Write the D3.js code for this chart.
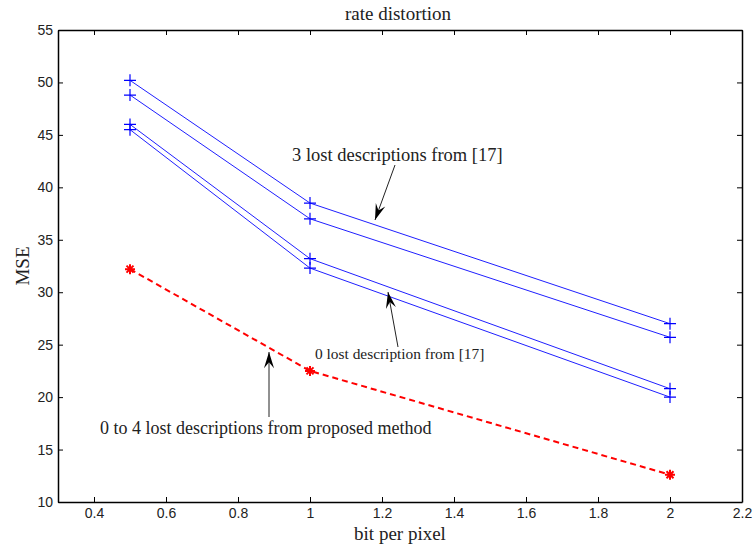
<!DOCTYPE html>
<html>
<head>
<meta charset="utf-8">
<script src="https://cdn.jsdelivr.net/npm/d3@7"></script>
<style>
  body { margin: 0; background: #fff; }
  .tick text { font-family: "Liberation Sans", Arial, sans-serif; font-size: 14px; fill: #222; }
  .serif { font-family: "Liberation Serif", "Times New Roman", serif; fill: #222; }
</style>
</head>
<body>
<script>
// data
var bpp = [0.5, 1, 2];
var lost3a = [50.2, 38.5, 27.0];
var lost3b = [48.8, 37.0, 25.7];
var lost0a = [46.0, 33.2, 20.8];
var lost0b = [45.5, 32.3, 20.0];
var proposed = [32.2, 22.5, 12.6];
var xTicks = [0.4, 0.6, 0.8, 1, 1.2, 1.4, 1.6, 1.8, 2, 2.2];
var yTicks = [10, 15, 20, 25, 30, 35, 40, 45, 50, 55];

var margin = { top: 30, right: 12, bottom: 44, left: 58 },
    width = 754 - margin.left - margin.right,
    height = 546 - margin.top - margin.bottom;

var svg = d3.select("body")
    .append("svg")
    .attr("width", 754)
    .attr("height", 546);

var x = d3.scaleLinear().domain([0.3, 2.2]).range([0, width]);
var y = d3.scaleLinear().domain([10, 55]).range([height, 0]);

var main = svg.append("g")
    .attr("transform", "translate(" + margin.left + "," + margin.top + ")");

// axes, ticks pointing inward on all four sides
main.append("g")
    .attr("transform", "translate(0," + height + ")")
    .call(d3.axisBottom(x).tickValues(xTicks).tickFormat(d3.format("")).tickSizeInner(-5).tickSizeOuter(0).tickPadding(6));
main.append("g")
    .call(d3.axisLeft(y).tickValues(yTicks).tickSizeInner(-5).tickSizeOuter(0).tickPadding(5));
main.append("g")
    .call(d3.axisTop(x).tickValues(xTicks).tickFormat("").tickSizeInner(-5).tickSizeOuter(0));
main.append("g")
    .attr("transform", "translate(" + width + ",0)")
    .call(d3.axisRight(y).tickValues(yTicks).tickFormat("").tickSizeInner(-5).tickSizeOuter(0));
main.selectAll(".domain").attr("stroke", "#000").attr("stroke-width", 1.5);
main.selectAll(".tick line").attr("stroke", "#000");

var line = d3.line()
    .x(function (d) { return x(d[0]); })
    .y(function (d) { return y(d[1]); });

var blueSeries = [lost3a, lost3b, lost0a, lost0b];
blueSeries.forEach(function (s) {
    var pts = bpp.map(function (b, i) { return [b, s[i]]; });
    main.append("path")
        .attr("d", line(pts))
        .attr("fill", "none")
        .attr("stroke", "#1f1fff")
        .attr("stroke-width", 1);
    pts.forEach(function (p) {
        var cx = x(p[0]), cy = y(p[1]);
        main.append("path")
            .attr("d", "M" + (cx - 6) + "," + cy + "H" + (cx + 6) + "M" + cx + "," + (cy - 6) + "V" + (cy + 6))
            .attr("stroke", "#0000ff")
            .attr("stroke-width", 1.2);
    });
});

var redPts = bpp.map(function (b, i) { return [b, proposed[i]]; });
main.append("path")
    .attr("d", line(redPts))
    .attr("fill", "none")
    .attr("stroke", "#ff0000")
    .attr("stroke-width", 2)
    .attr("stroke-dasharray", "6,4");
redPts.forEach(function (p) {
    var cx = x(p[0]), cy = y(p[1]);
    main.append("path")
        .attr("d", "M" + (cx - 5) + "," + cy + "H" + (cx + 5) + "M" + cx + "," + (cy - 5) + "V" + (cy + 5) +
            "M" + (cx - 3.5) + "," + (cy - 3.5) + "L" + (cx + 3.5) + "," + (cy + 3.5) +
            "M" + (cx - 3.5) + "," + (cy + 3.5) + "L" + (cx + 3.5) + "," + (cy - 3.5))
        .attr("stroke", "#ff0000")
        .attr("stroke-width", 2);
});

// title and axis labels
svg.append("text").attr("class", "serif")
    .attr("x", 398).attr("y", 20)
    .attr("text-anchor", "middle").attr("font-size", 19)
    .text("rate distortion");
svg.append("text").attr("class", "serif")
    .attr("x", 400).attr("y", 540)
    .attr("text-anchor", "middle").attr("font-size", 19)
    .text("bit per pixel");
svg.append("text").attr("class", "serif")
    .attr("transform", "translate(29,266) rotate(-90)")
    .attr("text-anchor", "middle").attr("font-size", 19)
    .text("MSE");

// annotations with arrows
function arrow(x1, y1, x2, y2) {
    svg.append("line")
        .attr("x1", x1).attr("y1", y1).attr("x2", x2).attr("y2", y2)
        .attr("stroke", "#222").attr("stroke-width", 1);
    var a = Math.atan2(y2 - y1, x2 - x1), L = 17, w = 0.3;
    var p1 = [x2 - L * Math.cos(a - w), y2 - L * Math.sin(a - w)];
    var p2 = [x2 - L * Math.cos(a + w), y2 - L * Math.sin(a + w)];
    var pm = [x2 - 0.6 * L * Math.cos(a), y2 - 0.6 * L * Math.sin(a)];
    svg.append("path")
        .attr("d", "M" + x2 + "," + y2 + "L" + p1 + "L" + pm + "L" + p2 + "Z")
        .attr("fill", "#000");
}

svg.append("text").attr("class", "serif")
    .attr("x", 292).attr("y", 161).attr("font-size", 18.5)
    .text("3 lost descriptions from [17]");
arrow(395, 165, 375, 220);

svg.append("text").attr("class", "serif")
    .attr("x", 315).attr("y", 359).attr("font-size", 15.4)
    .text("0 lost description from [17]");
arrow(398, 347, 388, 292);

svg.append("text").attr("class", "serif")
    .attr("x", 100).attr("y", 434).attr("font-size", 18)
    .text("0 to 4 lost descriptions from proposed method");
arrow(269, 417, 269, 352);
</script>
</body>
</html>
